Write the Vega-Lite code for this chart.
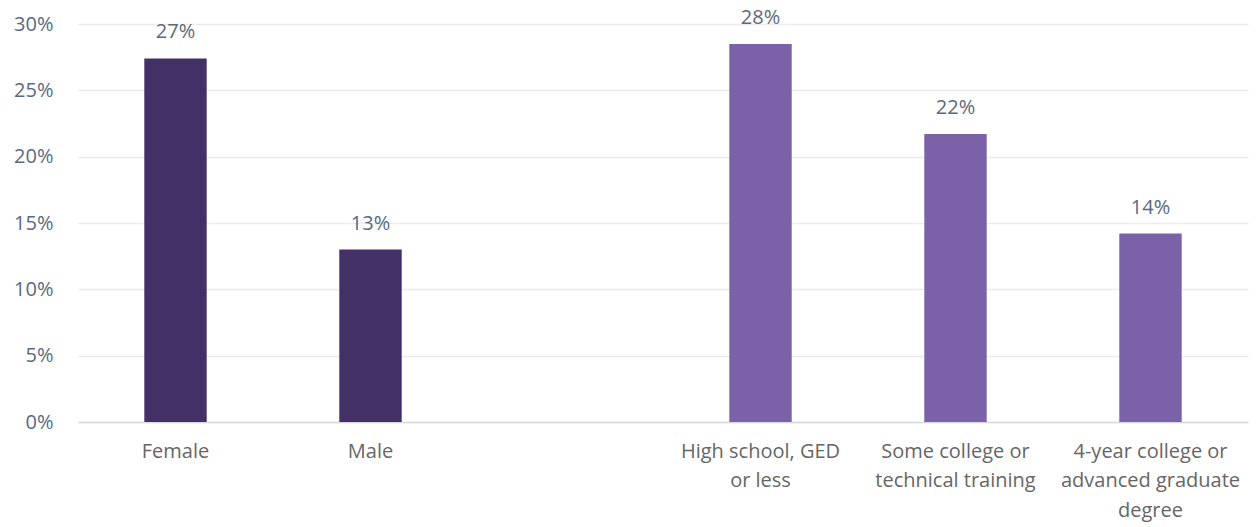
{
  "$schema": "https://vega.github.io/schema/vega-lite/v6.json",
  "width": 1170,
  "height": 398,
  "autosize": "none",
  "padding": {"left": 78, "top": 24, "right": 10, "bottom": 105},
  "background": "white",
  "config": {"view": {"stroke": null}, "font": "Open Sans"},
  "data": {
    "values": [
      {"label": "Female", "group": "Gender", "value": 0.274},
      {"label": "Male", "group": "Gender", "value": 0.130},
      {"label": "High school, GED|or less", "group": "Education", "value": 0.285},
      {"label": "Some college or|technical training", "group": "Education", "value": 0.217},
      {"label": "4-year college or|advanced graduate|degree", "group": "Education", "value": 0.142}
    ]
  },
  "encoding": {
    "x": {
      "field": "label",
      "type": "nominal",
      "sort": null,
      "scale": {
        "domain": ["Female", "Male", " ", "High school, GED|or less", "Some college or|technical training", "4-year college or|advanced graduate|degree"],
        "paddingInner": 0.68,
        "paddingOuter": 0.34
      },
      "axis": {
        "title": null,
        "labelAngle": 0,
        "labelExpr": "split(datum.label, '|')",
        "labelFontSize": 20,
        "labelColor": "#666666",
        "labelLineHeight": 29.5,
        "labelPadding": 19,
        "labelFont": "Open Sans",
        "ticks": false,
        "domainColor": "#d9d9d9",
        "domainWidth": 1.5,
        "grid": false
      }
    },
    "y": {
      "field": "value",
      "type": "quantitative",
      "scale": {"domain": [0, 0.3], "nice": false},
      "axis": {
        "title": null,
        "values": [0, 0.05, 0.1, 0.15, 0.2, 0.25, 0.3],
        "format": ".0%",
        "labelFontSize": 20,
        "labelColor": "#5a6a7e",
        "labelPadding": 25,
        "labelFont": "Open Sans",
        "ticks": false,
        "domain": false,
        "gridColor": "#ececec",
        "gridWidth": 1.5
      }
    }
  },
  "layer": [
    {
      "mark": {"type": "bar"},
      "encoding": {
        "color": {
          "field": "group",
          "type": "nominal",
          "scale": {"domain": ["Gender", "Education"], "range": ["#433066", "#7b61a8"]},
          "legend": null
        }
      }
    },
    {
      "mark": {"type": "text", "dy": -26, "baseline": "middle", "fontSize": 20, "color": "#5a6a7e", "font": "Open Sans"},
      "encoding": {
        "text": {"field": "value", "type": "quantitative", "format": ".0%"}
      }
    }
  ]
}
